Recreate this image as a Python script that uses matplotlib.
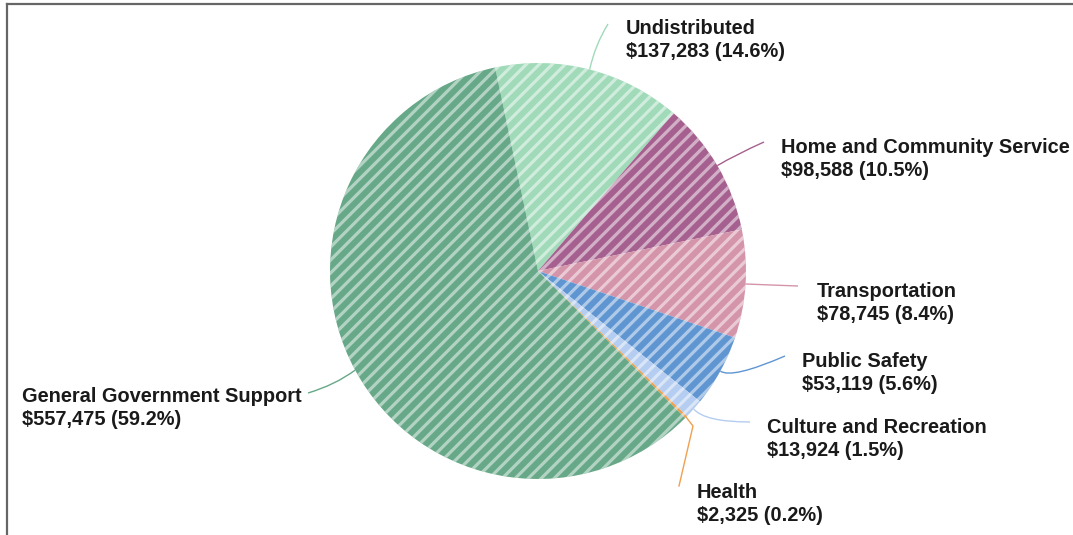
import numpy as np
import matplotlib.pyplot as plt
from matplotlib.path import Path
from matplotlib.patches import PathPatch, Circle
from matplotlib.collections import LineCollection
from matplotlib.lines import Line2D

# Budget by function, listed clockwise from the top of the pie
categories = ['Undistributed', 'Home and Community Service', 'Transportation',
              'Public Safety', 'Culture and Recreation', 'Health',
              'General Government Support']
amounts = [137283, 98588, 78745, 53119, 13924, 2325, 557475]
percents = [14.6, 10.5, 8.4, 5.6, 1.5, 0.2, 59.2]
colors = ['#a0dab9', '#a5608f', '#d494aa', '#5f96d2', '#b4cdf0', '#f0a050', '#66a887']

# label text baselines (pixels) and leader line end points
label_pos = [(626, 34), (781, 153), (817, 297), (802, 367), (767, 433), (697, 498), (22, 402)]
leader_mid = [(595, 45), (735, 155), (770, 285), (732, 379), (705, 422), (693, 426), (335, 385)]
leader_end = [(608, 24), (764, 142), (798, 286), (785, 356), (750, 422), (679, 486), (308, 393)]

W, H = 1073, 535
CX, CY, R = 538, 271, 208


def px(x, y):
    """pixel position -> data coords (pie radius = 1)"""
    return (x - CX) / R, (CY - y) / R


fig = plt.figure(figsize=(W / 100, H / 100), dpi=100)
ax = fig.add_axes([0, 0, 1, 1])
ax.set_xlim(-CX / R, (W - CX) / R)
ax.set_ylim(-(H - CY) / R, CY / R)
ax.set_aspect('equal')
ax.axis('off')

start = 90 + 11.9
wedges, _ = ax.pie(percents, colors=colors, startangle=start, counterclock=False,
                   radius=1, center=(0, 0), wedgeprops=dict(linewidth=0))
ax.set_xlim(-CX / R, (W - CX) / R)
ax.set_ylim(-(H - CY) / R, CY / R)

# white diagonal stripes over the whole pie
step = 13 / R
offs = np.arange(-2.2, 2.2, step)
segs = [[(-1.2, -1.2 + c), (1.2, 1.2 + c)] for c in offs]
stripes = LineCollection(segs, colors='white', linewidths=2.3, alpha=0.5, zorder=3)
clip = Circle((0, 0), 1, transform=ax.transData)
stripes.set_clip_path(clip)
ax.add_collection(stripes)

# leader lines from the middle of each slice edge out to its label
total = sum(percents)
cum = 0
for i, p in enumerate(percents):
    mid = np.deg2rad(start - (cum + p / 2) / total * 360)
    cum += p
    p0 = (np.cos(mid), np.sin(mid))
    verts = [p0, px(*leader_mid[i]), px(*leader_end[i])]
    if categories[i] == 'Health':
        ax.plot([v[0] for v in verts], [v[1] for v in verts], color=colors[i],
                lw=1.0, solid_joinstyle='round', zorder=4)
    else:
        path = Path(verts, [Path.MOVETO, Path.CURVE3, Path.CURVE3])
        ax.add_patch(PathPatch(path, fill=False, edgecolor=colors[i], lw=1.0, zorder=4))

    lx, ly = label_pos[i]
    ax.text(*px(lx, ly), categories[i], fontsize=14.4, fontweight='bold',
            family='Liberation Sans', color='#1a1a1a', ha='left', va='baseline')
    ax.text(*px(lx, ly + 23), '${:,} ({}%)'.format(amounts[i], p), fontsize=14.4,
            fontweight='bold', family='Liberation Sans', color='#1a1a1a',
            ha='left', va='baseline')

# thin frame along top and left edge
fig.add_artist(Line2D([6.5 / W, 1], [1 - 3.5 / H, 1 - 3.5 / H], color='#666666', lw=1.6))
fig.add_artist(Line2D([6.5 / W, 6.5 / W], [0, 1 - 3.5 / H], color='#666666', lw=1.6))

fig.savefig('out.png', dpi=100)
